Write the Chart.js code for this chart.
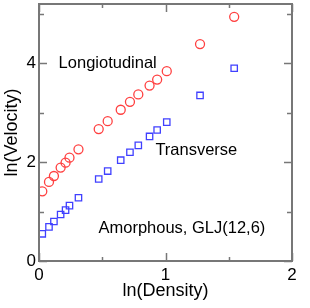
<!DOCTYPE html>
<html>
<head>
<meta charset="utf-8">
<script src="https://cdn.jsdelivr.net/npm/chart.js@4"></script>
<style>
  html, body { margin: 0; padding: 0; background: #fff; }
  #wrap { width: 310px; height: 308px; }
</style>
</head>
<body>
<div id="wrap"><canvas id="grafico" width="310" height="308"></canvas></div>
<script>
// ln(Density) values, same for both series
var lnDensity = [0.026, 0.079, 0.118, 0.171, 0.210, 0.241, 0.312, 0.472, 0.543, 0.646, 0.719, 0.785, 0.874, 0.934, 1.010, 1.273, 1.543];
// ln(Velocity)
var longitudinal = [1.41, 1.60, 1.72, 1.89, 1.99, 2.09, 2.26, 2.67, 2.83, 3.06, 3.22, 3.37, 3.55, 3.67, 3.84, 4.39, 4.94];
var transverse = [0.55, 0.69, 0.80, 0.94, 1.03, 1.12, 1.28, 1.66, 1.82, 2.04, 2.20, 2.34, 2.52, 2.65, 2.81, 3.35, 3.90];

var xTicks = [0, 0.5, 1, 1.5, 2];
var yTicks = [0, 1, 2, 3, 4, 5];
var xLabels = ["0", "", "1", "", "2"];
var yLabels = ["0", "", "2", "", "4", ""];

var fonte = "'Liberation Sans', Arial, Helvetica, sans-serif";

function pontos(ys) {
    return lnDensity.map(function(x, i) { return {x: x, y: ys[i]}; });
}

// moldura e marcas para dentro nos 4 lados
var moldura = {
    id: 'moldura',
    afterDraw: function(chart) {
        let ctx = chart.ctx;
        let a = chart.chartArea;
        let sx = chart.scales.x, sy = chart.scales.y;
        ctx.save();
        ctx.strokeStyle = '#777';
        ctx.lineWidth = 2;
        ctx.strokeRect(a.left, a.top, a.right - a.left, a.bottom - a.top);
        ctx.lineWidth = 1.5;
        ctx.beginPath();
        xTicks.forEach(function(v, i) {
            let px = Math.round(sx.getPixelForValue(v)) + 0.5;
            let len = xLabels[i] ? 8 : 4;
            ctx.moveTo(px, a.bottom); ctx.lineTo(px, a.bottom - len);
            ctx.moveTo(px, a.top); ctx.lineTo(px, a.top + len);
        });
        yTicks.forEach(function(v, i) {
            let py = Math.round(sy.getPixelForValue(v)) + 0.5;
            let len = yLabels[i] ? 8 : 5;
            ctx.moveTo(a.left, py); ctx.lineTo(a.left + len, py);
            ctx.moveTo(a.right, py); ctx.lineTo(a.right - len, py);
        });
        ctx.stroke();

        // textos dentro do grafico
        ctx.fillStyle = '#000';
        ctx.font = '16.5px ' + fonte;
        ctx.textBaseline = 'middle';
        ctx.textAlign = 'left';
        ctx.fillText('Longiotudinal', sx.getPixelForValue(0.155), sy.getPixelForValue(4.0));
        ctx.fillText('Transverse', sx.getPixelForValue(0.92), sy.getPixelForValue(2.24));
        ctx.fillText('Amorphous, GLJ(12,6)', sx.getPixelForValue(0.47), sy.getPixelForValue(0.65));
        ctx.restore();
    }
};

let ctx = document.getElementById('grafico').getContext('2d');
var graficoChart = new Chart(ctx, {
    type: 'scatter',
    data: {
        datasets: [{
            label: 'Longitudinal',
            data: pontos(longitudinal),
            pointStyle: 'circle',
            pointRadius: 4.5,
            borderColor: '#ff4040',
            backgroundColor: 'rgba(0,0,0,0)',
            borderWidth: 1.3
        }, {
            label: 'Transverse',
            data: pontos(transverse),
            pointStyle: 'rect',
            pointRadius: 4.5,
            borderColor: '#4040ff',
            backgroundColor: 'rgba(0,0,0,0)',
            borderWidth: 1.3
        }]
    },
    plugins: [moldura],
    options: {
        responsive: false,
        animation: false,
        layout: { autoPadding: false, padding: { top: 4, right: 18, left: 0, bottom: 0 } },
        plugins: { legend: { display: false }, tooltip: { enabled: false } },
        scales: {
            x: {
                type: 'linear',
                min: 0,
                max: 2,
                afterFit: function(s) { s.height = 47; s.paddingLeft = 0; s.paddingRight = 0; },
                afterBuildTicks: function(s) { s.ticks = xTicks.map(function(v) { return {value: v}; }); },
                grid: { display: false, drawTicks: false },
                border: { display: false },
                ticks: {
                    padding: 4,
                    color: '#000',
                    font: { family: fonte, size: 17 },
                    autoSkip: false,
                    maxRotation: 0,
                    callback: function(v, i) { return xLabels[i]; }
                },
                title: {
                    display: true,
                    text: 'ln(Density)',
                    color: '#000',
                    font: { family: fonte, size: 18 },
                    padding: { top: 0, bottom: 6 }
                }
            },
            y: {
                type: 'linear',
                min: 0,
                max: 5.2,
                afterFit: function(s) { s.width = 39; s.paddingTop = 0; s.paddingBottom = 0; },
                afterBuildTicks: function(s) { s.ticks = yTicks.map(function(v) { return {value: v}; }); },
                grid: { display: false, drawTicks: false },
                border: { display: false },
                ticks: {
                    padding: 3,
                    color: '#000',
                    font: { family: fonte, size: 17 },
                    autoSkip: false,
                    callback: function(v, i) { return yLabels[i]; }
                },
                title: {
                    display: true,
                    text: 'ln(Velocity)',
                    color: '#000',
                    font: { family: fonte, size: 18 },
                    padding: { top: 1, bottom: 0 }
                }
            }
        }
    }
});
</script>
</body>
</html>
